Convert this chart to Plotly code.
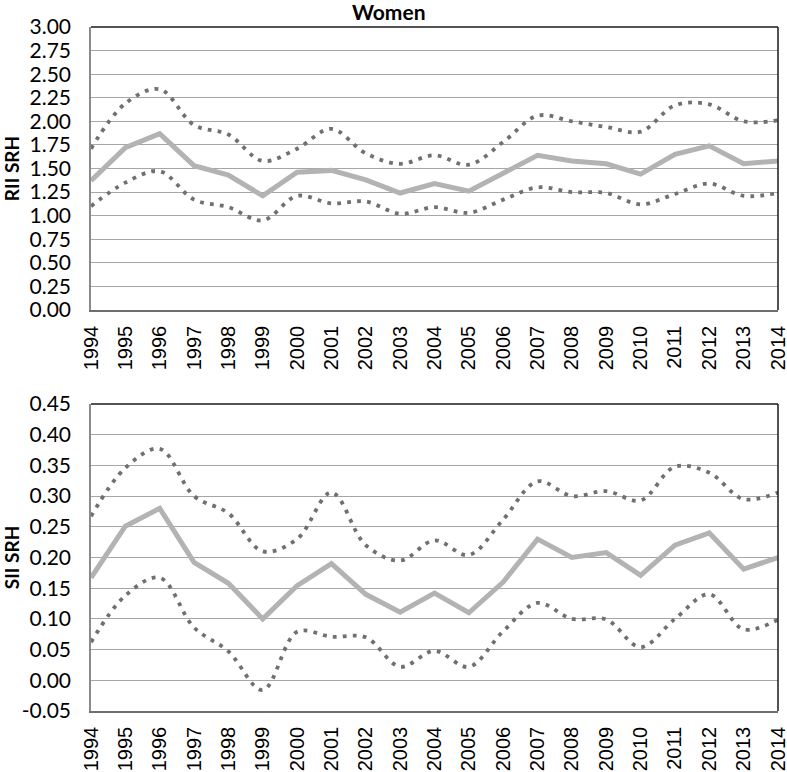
import plotly.graph_objects as go

years = list(range(1994, 2015))

rii = [1.37, 1.72, 1.87, 1.53, 1.43, 1.21, 1.46, 1.48, 1.38, 1.24, 1.34, 1.26, 1.45, 1.64, 1.58, 1.55, 1.44, 1.65, 1.74, 1.55, 1.58]
rii_upper = [1.71, 2.19, 2.34, 1.96, 1.86, 1.58, 1.71, 1.92, 1.66, 1.55, 1.64, 1.54, 1.78, 2.06, 2.00, 1.94, 1.89, 2.17, 2.18, 2.00, 2.01]
rii_lower = [1.10, 1.35, 1.47, 1.17, 1.09, 0.95, 1.21, 1.13, 1.15, 1.02, 1.09, 1.03, 1.17, 1.30, 1.25, 1.24, 1.12, 1.23, 1.34, 1.21, 1.24]

sii = [0.167, 0.251, 0.280, 0.192, 0.158, 0.100, 0.154, 0.190, 0.140, 0.111, 0.142, 0.110, 0.160, 0.230, 0.200, 0.208, 0.171, 0.220, 0.240, 0.181, 0.200]
sii_upper = [0.267, 0.346, 0.377, 0.300, 0.272, 0.210, 0.230, 0.306, 0.220, 0.195, 0.228, 0.204, 0.262, 0.324, 0.300, 0.308, 0.293, 0.348, 0.338, 0.295, 0.306]
sii_lower = [0.062, 0.138, 0.167, 0.086, 0.047, -0.016, 0.079, 0.071, 0.070, 0.022, 0.048, 0.022, 0.080, 0.126, 0.100, 0.099, 0.054, 0.100, 0.140, 0.083, 0.099]

rii_ticks = [0.0, 0.25, 0.5, 0.75, 1.0, 1.25, 1.5, 1.75, 2.0, 2.25, 2.5, 2.75, 3.0]
sii_ticks = [-0.05, 0.0, 0.05, 0.1, 0.15, 0.2, 0.25, 0.3, 0.35, 0.4, 0.45]

title_text = "Women"
rii_label = "RII SRH"
sii_label = "SII SRH"

SOLID = "#b3b3b3"
DOT = "#707070"
GRID = "#a6a6a6"

fig = go.Figure()

def add_set(center, upper, lower, xa, ya):
    for band in (upper, lower):
        fig.add_trace(go.Scatter(x=years, y=band, mode="lines", xaxis=xa, yaxis=ya,
                                 line=dict(color=DOT, width=3.8, dash="3.8px,6.2px", shape="spline", smoothing=1.0),
                                 showlegend=False, hoverinfo="skip"))
    fig.add_trace(go.Scatter(x=years, y=center, mode="lines", xaxis=xa, yaxis=ya,
                             line=dict(color=SOLID, width=5),
                             showlegend=False, hoverinfo="skip"))

add_set(rii, rii_upper, rii_lower, "x", "y")
add_set(sii, sii_upper, sii_lower, "x2", "y2")

H = 772.0
top_dom = [1 - 310 / H, 1 - 27 / H]
bot_dom = [1 - 711 / H, 1 - 404 / H]

xcommon = dict(range=[1994, 2014], tickvals=years, ticktext=[str(y) for y in years],
               tickangle=-90, tickfont=dict(family="Liberation Sans, Arial", size=20, color="#000"),
               showgrid=False, zeroline=False, showline=True, linecolor="#6e6e6e", linewidth=1.5,
               ticks="", ticklabelstandoff=6, ticklabeloverflow="allow", automargin=False, fixedrange=True)
ycommon = dict(showgrid=True, gridcolor=GRID, gridwidth=1.3, zeroline=False, showline=True,
               linecolor="#8a8a8a", linewidth=1.5, ticks="",
               tickfont=dict(family="Lato", size=21, color="#000"), ticklabelstandoff=14,
               title_font=dict(family="Lato", size=19, color="#000", weight="bold"),
               title_standoff=24, automargin=False, fixedrange=True)

fig.update_layout(
    width=787, height=772, autosize=False,
    margin=dict(l=91, r=9, t=0, b=0, pad=0, autoexpand=False),
    paper_bgcolor="white", plot_bgcolor="white",
    xaxis=dict(domain=[0, 1], anchor="y", **xcommon),
    yaxis=dict(domain=top_dom, anchor="x", range=[0, 3], tickvals=rii_ticks,
               ticktext=[f"{v:.2f}" for v in rii_ticks], title_text=rii_label, **ycommon),
    xaxis2=dict(domain=[0, 1], anchor="y2", **xcommon),
    yaxis2=dict(domain=bot_dom, anchor="x2", range=[-0.05, 0.45], tickvals=sii_ticks,
                ticktext=[f"{v:.2f}".replace("-0.00", "0.00") for v in sii_ticks], title_text=sii_label, **ycommon),
)

for xr, yr in [("x domain", "y domain"), ("x2 domain", "y2 domain")]:
    fig.add_shape(type="line", xref=xr, yref=yr, x0=0, x1=1, y0=1, y1=1,
                  line=dict(color="#1a1a1a", width=1.5))
    fig.add_shape(type="line", xref=xr, yref=yr, x0=1, x1=1, y0=0, y1=1,
                  line=dict(color="#1a1a1a", width=1.5))

fig.add_annotation(text=f"<b>{title_text}</b>", xref="paper", yref="paper",
                   x=(389 - 91) / (787 - 100), y=1 - 11 / H, xanchor="center", yanchor="middle",
                   showarrow=False, font=dict(family="Lato", size=21, color="#000"))

fig.write_html("out.html", config={"displayModeBar": False},
               post_script="document.body.style.margin='0';document.body.style.padding='0';")
